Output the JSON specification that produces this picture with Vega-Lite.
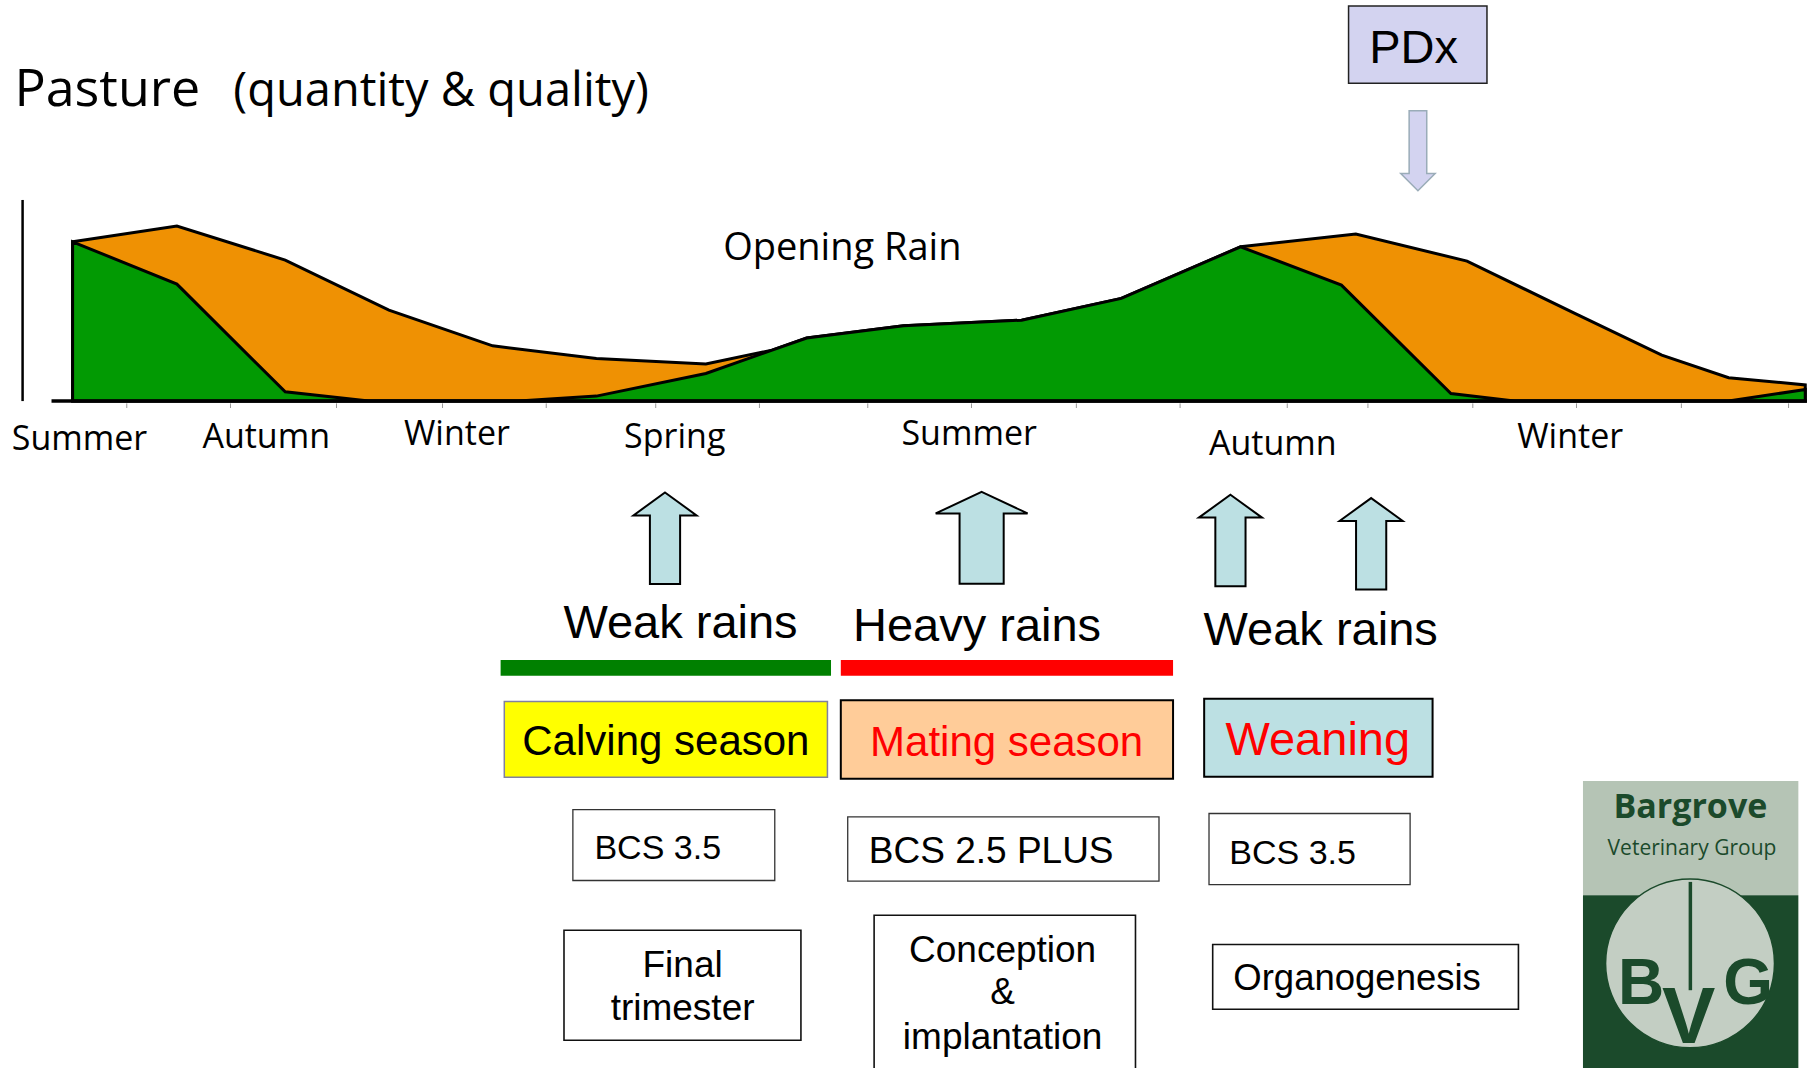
{
  "$schema": "https://vega.github.io/schema/vega-lite/v6.json",
  "width": 1812,
  "height": 1068,
  "autosize": {"type": "fit", "contains": "padding"},
  "padding": 0,
  "background": "white",
  "config": {"view": {"stroke": null}},
  "encoding": {
    "x": {"field": "t", "type": "quantitative", "scale": {"domain": [0, 1568], "nice": false, "zero": false}, "axis": null},
    "y": {"field": "v", "type": "quantitative", "scale": {"domain": [-577, 347], "nice": false, "zero": false}, "axis": null}
  },
  "layer": [
    {
      "data": {"values": [
        {"t": 63, "v": 137.8}, {"t": 153.5, "v": 151.4}, {"t": 247.5, "v": 122}, {"t": 337.5, "v": 78.7},
        {"t": 427.5, "v": 47.8}, {"t": 517.5, "v": 36.9}, {"t": 612.5, "v": 32}, {"t": 670, "v": 44.1},
        {"t": 700, "v": 54.5}, {"t": 784, "v": 65.2}, {"t": 886.5, "v": 70}, {"t": 973, "v": 88.8},
        {"t": 1076.5, "v": 133.5}, {"t": 1176.5, "v": 144.5}, {"t": 1273, "v": 121.1}, {"t": 1366.5, "v": 75.8},
        {"t": 1442, "v": 39.8}, {"t": 1500, "v": 20.2}, {"t": 1566.5, "v": 14}
      ]},
      "mark": {"type": "area", "color": "#EF9103", "stroke": "#000000", "strokeWidth": 3, "strokeJoin": "miter", "opacity": 1}
    },
    {
      "data": {"values": [
        {"t": 63, "v": 137.8}, {"t": 153.5, "v": 101.2}, {"t": 247.5, "v": 8}, {"t": 320, "v": 0},
        {"t": 450, "v": 0}, {"t": 517.5, "v": 4.3}, {"t": 612.5, "v": 23.9}, {"t": 670, "v": 44.1},
        {"t": 700, "v": 54.5}, {"t": 784, "v": 65.2}, {"t": 886.5, "v": 70}, {"t": 973, "v": 88.8},
        {"t": 1076.5, "v": 133.5}, {"t": 1164, "v": 100.3}, {"t": 1259, "v": 6.6}, {"t": 1314, "v": 0},
        {"t": 1500, "v": 0}, {"t": 1566.5, "v": 10}
      ]},
      "mark": {"type": "area", "color": "#029A03", "stroke": "#000000", "strokeWidth": 3, "strokeJoin": "miter", "opacity": 1}
    },
    {
      "data": {"values": [{"t": 44.7, "t2": 1568, "v": 0}]},
      "mark": {"type": "rule", "color": "#000000", "strokeWidth": 3.5},
      "encoding": {"x2": {"field": "t2"}}
    },
    {
      "data": {"values": [{"t": 19.6, "v": 174, "v2": 0}]},
      "mark": {"type": "rule", "color": "#000000", "strokeWidth": 2.5},
      "encoding": {"y2": {"field": "v2"}}
    },
    {
      "data": {"values": [
        {"t": 110, "v": -2, "v2": -6}, {"t": 200, "v": -2, "v2": -6}, {"t": 292, "v": -2, "v2": -6},
        {"t": 384, "v": -2, "v2": -6}, {"t": 474, "v": -2, "v2": -6}, {"t": 569, "v": -2, "v2": -6},
        {"t": 659, "v": -2, "v2": -6}, {"t": 753, "v": -2, "v2": -6}, {"t": 843, "v": -2, "v2": -6},
        {"t": 934, "v": -2, "v2": -6}, {"t": 1024, "v": -2, "v2": -6}, {"t": 1117, "v": -2, "v2": -6},
        {"t": 1187, "v": -2, "v2": -6}, {"t": 1278, "v": -2, "v2": -6}, {"t": 1368, "v": -2, "v2": -6},
        {"t": 1459, "v": -2, "v2": -6}, {"t": 1552, "v": -2, "v2": -6}
      ]},
      "mark": {"type": "rule", "color": "#9a9a9a", "strokeWidth": 1},
      "encoding": {"y2": {"field": "v2"}}
    },
    {
      "data": {"values": [{"t": 12.5, "v": 255.3, "label": "Pasture"}]},
      "mark": {"type": "text", "font": "Open Sans", "fontSize": 52, "align": "left", "baseline": "alphabetic", "color": "#000000"},
      "encoding": {"text": {"field": "label"}}
    },
    {
      "data": {"values": [{"t": 202.5, "v": 255.3, "label": "(quantity & quality)"}]},
      "mark": {"type": "text", "font": "Open Sans", "fontSize": 47, "align": "left", "baseline": "alphabetic", "color": "#000000"},
      "encoding": {"text": {"field": "label"}}
    },
    {
      "data": {"values": [{"t": 627.5, "v": 122, "label": "Opening Rain"}]},
      "mark": {"type": "text", "font": "Open Sans", "fontSize": 38, "align": "left", "baseline": "alphabetic", "color": "#000000"},
      "encoding": {"text": {"field": "label"}}
    },
    {
      "data": {"values": [
        {"t": 69, "v": -42.4, "label": "Summer"}, {"t": 231, "v": -41, "label": "Autumn"},
        {"t": 396.5, "v": -38, "label": "Winter"}, {"t": 585.5, "v": -41, "label": "Spring"},
        {"t": 841, "v": -38, "label": "Summer"}, {"t": 1104.5, "v": -46.7, "label": "Autumn"},
        {"t": 1362.5, "v": -41, "label": "Winter"}
      ]},
      "mark": {"type": "text", "font": "Open Sans", "fontSize": 34, "align": "center", "baseline": "alphabetic", "color": "#000000"},
      "encoding": {"text": {"field": "label"}}
    },
    {
      "data": {"values": [{"t": 1170.2, "t2": 1290.3, "v": 341.8, "v2": 274.9}]},
      "mark": {"type": "rect", "fill": "#D3D3F0", "stroke": "#222222", "strokeWidth": 1.5},
      "encoding": {"x2": {"field": "t2"}, "y2": {"field": "v2"}}
    },
    {
      "data": {"values": [{"t": 1226.6, "v": 292.2, "label": "PDx"}]},
      "mark": {"type": "text", "font": "Liberation Sans", "fontSize": 47, "align": "center", "baseline": "alphabetic", "color": "#000000"},
      "encoding": {"text": {"field": "label"}}
    },
    {
      "data": {"values": [{"t": 1230.4, "v": 216.6, "label": "PDx"}]},
      "mark": {"type": "point", "shape": "M-0.22,-1L0.22,-1L0.22,0.57L0.43,0.57L0,1L-0.43,0.57L-0.22,0.57Z", "size": 6400, "filled": true, "fill": "#D3D3F0", "stroke": "#9AACB8", "strokeWidth": 1.5, "opacity": 1}
    },
    {
      "data": {"values": [{"t": 577.05, "v": -118.7, "label": "Weak rains"}, {"t": 1067.7, "v": -120.6, "label": "Weak rains"}, {"t": 1189.8, "v": -123.5, "label": "Weak rains"}]},
      "mark": {"type": "point", "shape": "M0,-1L0.69,-0.5L0.33,-0.5L0.33,1L-0.33,1L-0.33,-0.5L-0.69,-0.5Z", "size": 8372, "filled": true, "fill": "#BCE0E3", "stroke": "#000000", "strokeWidth": 2, "opacity": 1}
    },
    {
      "data": {"values": [{"t": 851.8, "v": -118.3, "label": "Heavy rains"}]},
      "mark": {"type": "point", "shape": "M0,-1L1,-0.53L0.48,-0.53L0.48,1L-0.48,1L-0.48,-0.53L-1,-0.53Z", "size": 8446, "filled": true, "fill": "#BCE0E3", "stroke": "#000000", "strokeWidth": 2, "opacity": 1}
    },
    {
      "data": {"values": [
        {"t": 590.5, "v": -205.4, "label": "Weak rains"},
        {"t": 847.8, "v": -207.7, "label": "Heavy rains"},
        {"t": 1146, "v": -211.2, "label": "Weak rains"}
      ]},
      "mark": {"type": "text", "font": "Liberation Sans", "fontSize": 47, "align": "center", "baseline": "alphabetic", "color": "#000000"},
      "encoding": {"text": {"field": "label"}}
    },
    {
      "data": {"values": [{"t": 434.4, "t2": 721.1, "v": -224.1, "v2": -237.7}]},
      "mark": {"type": "rect", "fill": "#008000"},
      "encoding": {"x2": {"field": "t2"}, "y2": {"field": "v2"}}
    },
    {
      "data": {"values": [{"t": 729.6, "t2": 1017.9, "v": -224.1, "v2": -237.7}]},
      "mark": {"type": "rect", "fill": "#FF0000"},
      "encoding": {"x2": {"field": "t2"}, "y2": {"field": "v2"}}
    },
    {
      "data": {"values": [{"t": 437.6, "t2": 718, "v": -259.9, "v2": -325.4}]},
      "mark": {"type": "rect", "fill": "#FFFF00", "stroke": "#8080A0", "strokeWidth": 1.5},
      "encoding": {"x2": {"field": "t2"}, "y2": {"field": "v2"}}
    },
    {
      "data": {"values": [{"t": 729.6, "t2": 1017.9, "v": -258.8, "v2": -326.8}]},
      "mark": {"type": "rect", "fill": "#FFCC99", "stroke": "#000000", "strokeWidth": 2},
      "encoding": {"x2": {"field": "t2"}, "y2": {"field": "v2"}}
    },
    {
      "data": {"values": [{"t": 1044.9, "t2": 1243.1, "v": -257.6, "v2": -325.1}]},
      "mark": {"type": "rect", "fill": "#BCE0E3", "stroke": "#000000", "strokeWidth": 2},
      "encoding": {"x2": {"field": "t2"}, "y2": {"field": "v2"}}
    },
    {
      "data": {"values": [{"t": 577.8, "v": -306.3, "label": "Calving season"}]},
      "mark": {"type": "text", "font": "Liberation Sans", "fontSize": 42, "align": "center", "baseline": "alphabetic", "color": "#000000"},
      "encoding": {"text": {"field": "label"}}
    },
    {
      "data": {"values": [{"t": 873.5, "v": -307.2, "label": "Mating season"}]},
      "mark": {"type": "text", "font": "Liberation Sans", "fontSize": 42, "align": "center", "baseline": "alphabetic", "color": "#FF0000"},
      "encoding": {"text": {"field": "label"}}
    },
    {
      "data": {"values": [{"t": 1143.5, "v": -306.3, "label": "Weaning"}]},
      "mark": {"type": "text", "font": "Liberation Sans", "fontSize": 47, "align": "center", "baseline": "alphabetic", "color": "#FF0000"},
      "encoding": {"text": {"field": "label"}}
    },
    {
      "data": {"values": [
        {"t": 497.1, "t2": 672.3, "v": -353.4, "v2": -414.8},
        {"t": 735.6, "t2": 1005.7, "v": -359.7, "v2": -415.4},
        {"t": 1049.1, "t2": 1223.6, "v": -356.8, "v2": -418.3}
      ]},
      "mark": {"type": "rect", "fill": "#FFFFFF", "stroke": "#333333", "strokeWidth": 1.3},
      "encoding": {"x2": {"field": "t2"}, "y2": {"field": "v2"}}
    },
    {
      "data": {"values": [
        {"t": 515.8, "v": -396.6, "label": "BCS 3.5"},
        {"t": 1066.7, "v": -400.7, "label": "BCS 3.5"}
      ]},
      "mark": {"type": "text", "font": "Liberation Sans", "fontSize": 34, "align": "left", "baseline": "alphabetic", "color": "#000000"},
      "encoding": {"text": {"field": "label"}}
    },
    {
      "data": {"values": [{"t": 753.9, "v": -400, "label": "BCS 2.5 PLUS"}]},
      "mark": {"type": "text", "font": "Liberation Sans", "fontSize": 37, "align": "left", "baseline": "alphabetic", "color": "#000000"},
      "encoding": {"text": {"field": "label"}}
    },
    {
      "data": {"values": [
        {"t": 489.4, "t2": 695, "v": -457.8, "v2": -553},
        {"t": 758.5, "t2": 985.3, "v": -444.8, "v2": -600},
        {"t": 1052.3, "t2": 1317.6, "v": -470.2, "v2": -526.2}
      ]},
      "mark": {"type": "rect", "fill": "#FFFFFF", "stroke": "#111111", "strokeWidth": 1.6, "clip": true},
      "encoding": {"x2": {"field": "t2"}, "y2": {"field": "v2"}}
    },
    {
      "data": {"values": [
        {"t": 592.3, "v": -498.2, "label": "Final"},
        {"t": 592.3, "v": -535.7, "label": "trimester"},
        {"t": 870, "v": -485.2, "label": "Conception"},
        {"t": 870, "v": -521.2, "label": "&"},
        {"t": 870, "v": -560.2, "label": "implantation"}
      ]},
      "mark": {"type": "text", "font": "Liberation Sans", "fontSize": 37, "align": "center", "baseline": "alphabetic", "color": "#000000"},
      "encoding": {"text": {"field": "label"}}
    },
    {
      "data": {"values": [{"t": 1070.2, "v": -509.7, "label": "Organogenesis"}]},
      "mark": {"type": "text", "font": "Liberation Sans", "fontSize": 36.5, "align": "left", "baseline": "alphabetic", "color": "#000000"},
      "encoding": {"text": {"field": "label"}}
    },
    {
      "data": {"values": [{"t": 1373.6, "t2": 1560.5, "v": -328.6, "v2": -427.5}]},
      "mark": {"type": "rect", "fill": "#B5C4B5"},
      "encoding": {"x2": {"field": "t2"}, "y2": {"field": "v2"}}
    },
    {
      "data": {"values": [{"t": 1373.6, "t2": 1560.5, "v": -427.5, "v2": -600}]},
      "mark": {"type": "rect", "fill": "#1B4A2B", "clip": true},
      "encoding": {"x2": {"field": "t2"}, "y2": {"field": "v2"}}
    },
    {
      "data": {"values": [{"t": 1466.5, "v": -486.5, "label": "logo"}]},
      "mark": {"type": "point", "shape": "circle", "size": 28530, "filled": true, "fill": "#C3CEC3", "stroke": "#1B4A2B", "strokeWidth": 1.5, "opacity": 1}
    },
    {
      "data": {"values": [{"t": 1466.8, "v": -416, "v2": -509.7}]},
      "mark": {"type": "rule", "color": "#1B4A2B", "strokeWidth": 3.5},
      "encoding": {"y2": {"field": "v2"}}
    },
    {
      "data": {"values": [{"t": 1466.8, "v": -360.3, "label": "Bargrove"}]},
      "mark": {"type": "text", "font": "Open Sans", "fontSize": 34, "fontWeight": "bold", "align": "center", "baseline": "alphabetic", "color": "#1B4A2B"},
      "encoding": {"text": {"field": "label"}}
    },
    {
      "data": {"values": [{"t": 1468.2, "v": -392.9, "label": "Veterinary Group"}]},
      "mark": {"type": "text", "font": "Open Sans", "fontSize": 21, "align": "center", "baseline": "alphabetic", "color": "#1B4A2B"},
      "encoding": {"text": {"field": "label"}}
    },
    {
      "data": {"values": [{"t": 1424, "v": -521.2, "label": "B"}, {"t": 1517, "v": -521.2, "label": "G"}]},
      "mark": {"type": "text", "font": "Liberation Sans Narrow, Liberation Sans", "fontSize": 64, "fontWeight": "bold", "align": "center", "baseline": "alphabetic", "color": "#1B4A2B"},
      "encoding": {"text": {"field": "label"}}
    },
    {
      "data": {"values": [{"t": 1465.3, "v": -555, "label": "V"}]},
      "mark": {"type": "text", "font": "Liberation Sans Narrow, Liberation Sans", "fontSize": 80, "fontWeight": "bold", "align": "center", "baseline": "alphabetic", "color": "#1B4A2B"},
      "encoding": {"text": {"field": "label"}}
    }
  ]
}
